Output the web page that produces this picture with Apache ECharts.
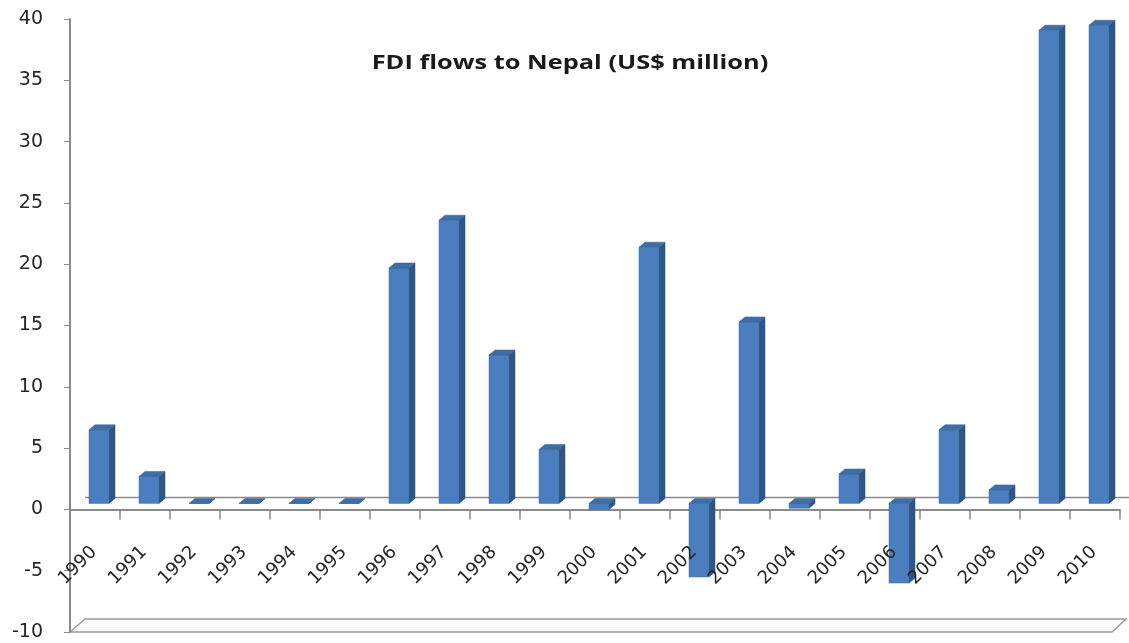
<!DOCTYPE html>
<html>
<head>
<meta charset="utf-8">
<script src="https://cdn.jsdelivr.net/npm/echarts@6/dist/echarts.min.js"></script>
<style>
html,body{margin:0;padding:0;background:#fff;}
#chart{width:1129px;height:643px;}
</style>
</head>
<body>
<div id="chart"></div>
<script>
const titleText = 'FDI flows to Nepal (US$ million)';
const years = ['1990','1991','1992','1993','1994','1995','1996','1997','1998','1999','2000','2001','2002','2003','2004','2005','2006','2007','2008','2009','2010'];
const fdiValues = [6.0, 2.2, 0, 0, 0, 0, 19.2, 23.1, 12.1, 4.4, -0.5, 20.9, -6.0, 14.8, -0.4, 2.4, -6.5, 6.0, 1.1, 38.6, 39.0];
const yTicks = {min: -10, max: 40, interval: 5};

const chart = echarts.init(document.getElementById('chart'), null, {renderer: 'canvas'});

const barData = years.map((y, i) => [i, fdiValues[i]]);
const labelData = years.map((y, i) => [i, 0]);

function renderBar(params, api) {
  const i = api.value(0), v = api.value(1);
  const base = api.coord([i, 0]);
  const top = api.coord([i, v]);
  const bw = api.size([1, 0])[0];
  const w = bw * 0.4;
  const dx = bw * 0.08, dy = -6;
  const ddx = 6, ddy = -5;
  const xl = base[0] + dx - w / 2, xr = xl + w;
  const y1 = base[1] + dy, y2 = top[1] + dy;
  const yt = Math.min(y1, y2), yb = Math.max(y1, y2);
  return {
    type: 'group',
    children: [
      {type: 'polygon', shape: {points: [[xr, yt], [xr + ddx, yt + ddy], [xr + ddx, yb + ddy], [xr, yb]]},
       style: {fill: '#2E5585', stroke: '#2A4E7A', lineWidth: 0.5}},
      {type: 'rect', shape: {x: xl, y: yt, width: w, height: yb - yt},
       style: {fill: '#4A7EBF', stroke: '#3D6DA8', lineWidth: 0.5}},
      {type: 'polygon', shape: {points: [[xl, yt], [xl + ddx, yt + ddy], [xr + ddx, yt + ddy], [xr, yt]]},
       style: {fill: '#3F6DA6', stroke: '#35608F', lineWidth: 0.5}}
    ]
  };
}

function renderLabel(params, api) {
  const i = api.value(0);
  const p = api.coord([i, 0]);
  return {
    type: 'text',
    x: p[0] - 1,
    y: p[1] + 40,
    rotation: Math.PI / 4,
    style: {
      text: years[i],
      fontFamily: 'DejaVu Sans',
      fontSize: 18,
      fill: '#262626',
      align: 'right',
      verticalAlign: 'middle'
    }
  };
}

function renderFloor(params, api) {
  const cs = params.coordSys;
  const x0 = cs.x, x1 = cs.x + cs.width;
  const yZero = api.coord([0, 0])[1];
  const yMin = cs.y + cs.height;
  return {
    type: 'group',
    children: [
      {type: 'polygon', shape: {points: [[x0, yMin], [x0 + 15, yMin - 13], [x1 + 6, yMin - 13], [x1 - 8, yMin]]},
       style: {fill: '#fafafa', stroke: '#9a9a9a', lineWidth: 1.5}},
      {type: 'line', shape: {x1: x0 + 15, y1: yZero - 12, x2: x1 + 20, y2: yZero - 12},
       style: {stroke: '#8a8a8a', lineWidth: 1.5}}
    ]
  };
}

chart.setOption({
  backgroundColor: '#ffffff',
  animation: false,
  graphic: [{
    type: 'text',
    x: 570, y: 63,
    scaleX: 1.27,
    style: {
      text: titleText,
      align: 'center', verticalAlign: 'middle',
      fontFamily: 'Open Sans', fontWeight: 'bold', fontSize: 20, fill: '#1a1a1a'
    }
  }],
  grid: {left: 70, right: 9, top: 19, bottom: 11, containLabel: false, outerBoundsMode: 'none'},
  xAxis: {
    type: 'category',
    data: years,
    boundaryGap: true,
    axisLine: {onZero: true, lineStyle: {color: '#8a8a8a', width: 2}},
    axisTick: {show: true, interval: 0, length: 10, lineStyle: {color: '#8a8a8a', width: 1.5}},
    axisLabel: {show: false},
    splitLine: {show: false}
  },
  yAxis: {
    type: 'value',
    min: yTicks.min, max: yTicks.max, interval: yTicks.interval,
    axisLine: {show: true, lineStyle: {color: '#8a8a8a', width: 2}},
    axisTick: {show: true, length: 6, lineStyle: {color: '#8a8a8a'}},
    axisLabel: {margin: 27, fontFamily: 'DejaVu Sans', fontSize: 19, color: '#262626'},
    splitLine: {show: false}
  },
  series: [
    {type: 'custom', renderItem: renderFloor, data: [[0, 0]], clip: false, silent: true, z: 0},
    {type: 'custom', renderItem: renderBar, data: barData, encode: {x: 0, y: 1}, clip: false, z: 5},
    {type: 'custom', renderItem: renderLabel, data: labelData, encode: {x: 0, y: 1}, clip: false, silent: true, z: 6}
  ]
});
</script>
</body>
</html>
